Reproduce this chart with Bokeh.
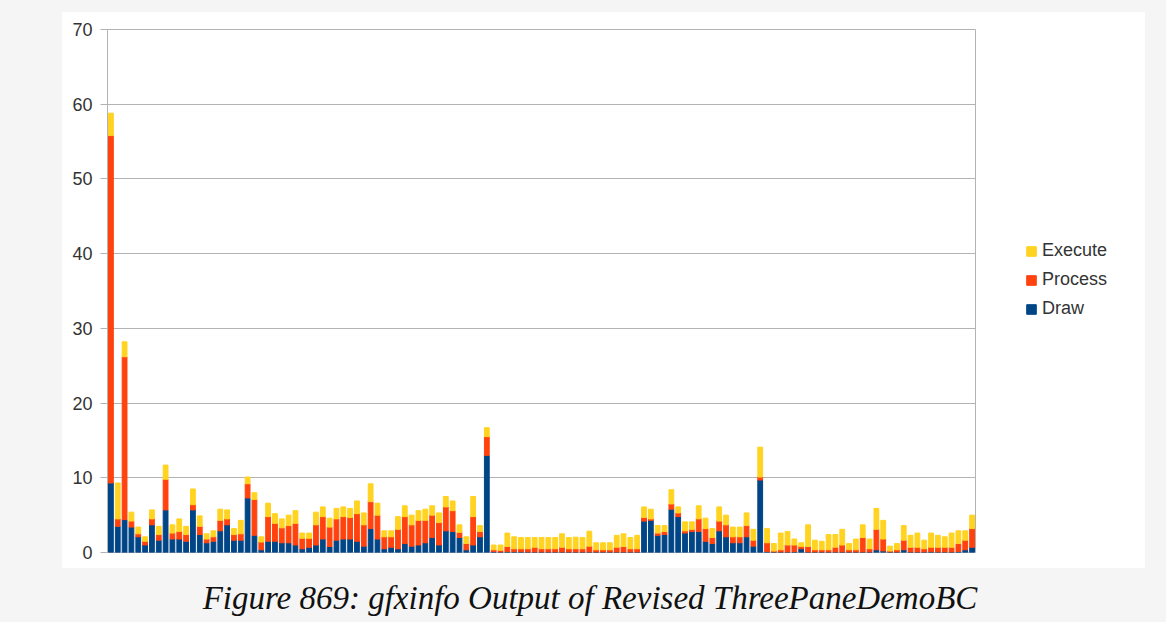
from bokeh.plotting import figure
from bokeh.models import ColumnDataSource, Range1d, FixedTicker, Legend, LegendItem, Div
from bokeh.layouts import column, row
from bokeh.embed import file_html
from bokeh.resources import INLINE

draw = [9.3, 3.5, 4.4, 3.4, 2.1, 1.0, 3.7, 1.65, 5.7, 1.8,
        1.8, 1.5, 5.7, 2.4, 1.3, 1.5, 2.9, 3.7, 1.65, 1.65,
        7.3, 2.3, 0.36, 1.5, 1.5, 1.3, 1.3, 1.0, 0.5, 0.7,
        1.0, 1.8, 0.8, 1.65, 1.8, 1.8, 1.5, 0.85, 3.2, 1.8,
        0.5, 0.7, 0.5, 1.2, 0.85, 1.0, 1.3, 2.0, 1.0, 2.9,
        2.8, 2.0, 0.36, 1.0, 2.1, 13.0, 0.1, 0.05, 0.1, 0.1,
        0.1, 0.05, 0.05, 0.05, 0.05, 0.05, 0.05, 0.05, 0.05, 0.05,
        0.05, 0.05, 0.05, 0.05, 0.05, 0.05, 0.05, 0.05, 4.2, 4.3,
        2.3, 2.4, 5.8, 4.8, 2.6, 2.8, 2.8, 1.5, 1.2, 2.9,
        2.1, 1.3, 1.3, 2.1, 0.85, 9.7, 0.13, 0.05, 0.05, 0.05,
        0.1, 0.5, 0.05, 0.05, 0.05, 0.05, 0.05, 0.05, 0.05, 0.05,
        0.05, 0.05, 0.36, 0.2, 0.05, 0.05, 0.36, 0.05, 0.05, 0.05,
        0.1, 0.05, 0.05, 0.05, 0.13, 0.36, 0.7]

process = [46.5, 1.0, 21.8, 0.8, 0.4, 0.5, 0.8, 0.75, 4.1, 0.8,
           1.0, 0.9, 0.7, 1.1, 0.5, 0.6, 1.4, 0.8, 0.75, 0.85,
           1.9, 4.8, 1.04, 3.3, 2.4, 2.0, 2.3, 2.9, 1.4, 1.2,
           2.7, 3.0, 2.6, 2.85, 3.0, 2.9, 3.7, 2.85, 3.6, 3.2,
           1.6, 1.4, 2.6, 3.6, 2.85, 3.3, 3.0, 3.0, 3.0, 3.2,
           2.8, 0.7, 0.84, 3.8, 0.7, 2.5, 0.26, 0.25, 0.7, 0.4,
           0.4, 0.45, 0.65, 0.45, 0.45, 0.45, 0.65, 0.45, 0.45, 0.45,
           0.8, 0.31, 0.31, 0.31, 0.65, 0.75, 0.45, 0.45, 0.5, 0.2,
           0.3, 0.4, 0.7, 0.5, 0.3, 0.3, 1.7, 1.7, 0.8, 1.3,
           1.6, 0.8, 0.8, 1.5, 0.8, 0.4, 1.17, 0.15, 0.31, 0.95,
           0.9, 0.3, 0.75, 0.31, 0.31, 0.31, 0.65, 0.95, 0.31, 0.31,
           1.95, 0.45, 2.74, 1.6, 0.15, 0.31, 1.29, 0.65, 0.65, 0.45,
           0.6, 0.65, 0.65, 0.65, 1.07, 1.29, 2.5]

execute = [3.0, 4.8, 2.0, 1.2, 0.9, 0.6, 1.2, 1.1, 1.9, 1.1,
           1.7, 1.1, 2.1, 1.4, 0.7, 0.8, 1.5, 1.2, 0.8, 1.8,
           0.9, 0.9, 0.7, 1.8, 1.3, 1.2, 1.4, 1.7, 0.7, 0.7,
           1.7, 1.3, 1.2, 1.4, 1.3, 1.2, 1.7, 1.6, 2.4, 1.6,
           0.8, 0.8, 1.7, 1.45, 1.3, 1.3, 1.5, 1.25, 1.3, 1.4,
           1.3, 1.0, 0.9, 2.7, 0.8, 1.2, 0.64, 0.7, 1.8, 1.6,
           1.5, 1.5, 1.3, 1.5, 1.5, 1.5, 1.8, 1.5, 1.55, 1.5,
           2.0, 0.94, 0.94, 0.94, 1.6, 1.7, 1.5, 1.8, 1.4, 1.3,
           1.0, 0.8, 1.9, 0.8, 1.2, 1.0, 1.75, 1.4, 1.2, 1.9,
           1.3, 1.3, 1.3, 1.7, 1.45, 4.0, 1.9, 1.0, 2.24, 1.8,
           0.8, 0.5, 2.9, 1.29, 1.14, 2.04, 1.7, 2.1, 0.84, 1.44,
           1.7, 1.3, 2.8, 2.5, 0.65, 0.84, 1.95, 1.6, 1.9, 1.15,
           1.9, 1.6, 1.4, 1.9, 1.7, 1.25, 1.8]

series_names = ["Draw", "Process", "Execute"]
series_colors = ["#004586", "#ff420e", "#ffd320"]
y_ticks = [0, 10, 20, 30, 40, 50, 60, 70]
caption = "Figure 869: gfxinfo Output of Revised ThreePaneDemoBC"

n = len(draw)
source = ColumnDataSource(dict(x=list(range(1, n + 1)), draw=draw,
                               process=process, execute=execute))

p = figure(width=938, height=556, output_backend="svg", toolbar_location=None,
           x_range=Range1d(0.5, n + 0.5), y_range=Range1d(0, 70),
           x_axis_location=None,
           min_border_left=45, min_border_right=25,
           min_border_top=17, min_border_bottom=16,
           background_fill_color="white", border_fill_color="white",
           outline_line_color="#b3b3b3", margin=0)

p.vbar_stack(["draw", "process", "execute"], x="x", width=0.7,
             color=series_colors, source=source)

p.xgrid.visible = False
p.ygrid.grid_line_color = "#b3b3b3"
p.yaxis.ticker = FixedTicker(ticks=y_ticks)
p.yaxis.axis_line_color = "#b3b3b3"
p.yaxis.major_tick_line_color = "#b3b3b3"
p.yaxis.major_tick_out = 7
p.yaxis.major_tick_in = 0
p.yaxis.minor_tick_line_color = None
p.yaxis.major_label_standoff = 8
p.yaxis.major_label_text_font = "Liberation Sans"
p.yaxis.major_label_text_font_size = "18px"
p.yaxis.major_label_text_color = "#333333"

# legend panel (separate white figure to the right of the plot);
# its swatch renderers hold no drawable point so only the legend shows
lg = figure(width=145, height=556, output_backend="svg", toolbar_location=None,
            x_axis_location=None, y_axis_location=None, min_border=0,
            x_range=Range1d(0, 1), y_range=Range1d(0, 1),
            background_fill_color="white", border_fill_color="white",
            outline_line_color=None, margin=0)
lg.xgrid.visible = False
lg.ygrid.visible = False
swatch = ColumnDataSource(dict(x=[float("nan")], top=[float("nan")]))
legend_renderers = [lg.vbar(x="x", top="top", width=0.1, color=series_colors[i],
                            source=swatch) for i in range(3)]
items = [LegendItem(label=series_names[i], renderers=[legend_renderers[i]]) for i in (2, 1, 0)]
legend = Legend(items=items, location=(25, 233), border_line_color=None,
                background_fill_alpha=0, glyph_width=12, glyph_height=12,
                label_standoff=5, spacing=8, label_height=20, padding=0, margin=0,
                label_text_font="Liberation Sans", label_text_font_size="18px",
                label_text_color="#333333")
lg.add_layout(legend, "center")

chart = row(p, lg, margin=(12, 0, 0, 62), spacing=0,
            styles={"background-color": "white"})

div = Div(text=caption, width=1166, height=44, margin=(10, 0, 0, 0),
          styles={"font-family": "Liberation Serif", "font-style": "italic",
                  "font-size": "33px", "color": "#111111", "text-align": "center",
                  "width": "1166px", "padding-left": "14px", "line-height": "40px"})

layout = column(chart, div, width=1166, height=622,
                styles={"background-color": "#f5f5f5"})

open("out.html", "w").write(file_html(layout, INLINE))
